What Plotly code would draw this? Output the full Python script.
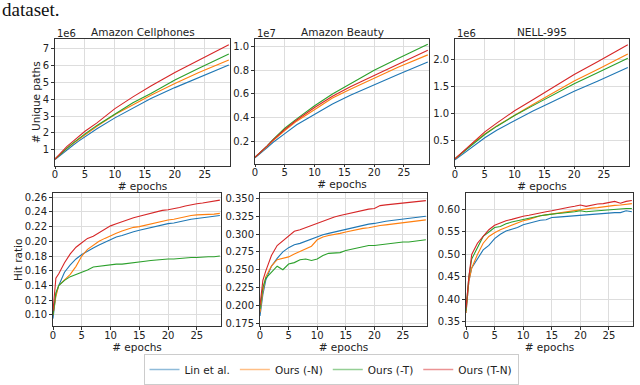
import plotly.graph_objects as go

# epochs for the unique-path curves (values read at these epochs)
ep_paths = [0, 1, 2, 3, 4, 5, 7, 10, 13, 16, 20, 24, 29]
# epochs for the hit-ratio curves
ep_hit = [0, 0.5] + list(range(1, 30))

series_names = ['Lin et al.', 'Ours (-N)', 'Ours (-T)', 'Ours (T-N)']
series_colors = ['#1f77b4', '#ff7f0e', '#2ca02c', '#d62728']
legend_colors = ['#8fbbd9', '#ffbf86', '#95cf95', '#eb9394']

# Unique paths, Amazon Cellphones (x 1e6)
cell_paths = {
    'Lin et al.': [0.42, 0.72, 1.0, 1.27, 1.53, 1.78, 2.25, 2.9, 3.5, 4.05, 4.7, 5.3, 6.05],
    'Ours (-N)': [0.45, 0.78, 1.08, 1.37, 1.64, 1.9, 2.4, 3.1, 3.7, 4.25, 4.95, 5.6, 6.35],
    'Ours (-T)': [0.45, 0.8, 1.1, 1.4, 1.68, 1.95, 2.45, 3.15, 3.8, 4.35, 5.15, 5.85, 6.7],
    'Ours (T-N)': [0.45, 0.85, 1.2, 1.5, 1.8, 2.1, 2.6, 3.45, 4.15, 4.8, 5.6, 6.35, 7.25],
}
# Unique paths, Amazon Beauty (x 1e7)
beauty_paths = {
    'Lin et al.': [0.06, 0.1, 0.145, 0.19, 0.23, 0.265, 0.34, 0.43, 0.515, 0.59, 0.68, 0.765, 0.87],
    'Ours (-N)': [0.065, 0.108, 0.155, 0.205, 0.25, 0.29, 0.37, 0.47, 0.565, 0.64, 0.735, 0.825, 0.93],
    'Ours (-T)': [0.065, 0.11, 0.16, 0.215, 0.265, 0.31, 0.39, 0.5, 0.6, 0.685, 0.8, 0.9, 1.02],
    'Ours (T-N)': [0.065, 0.11, 0.16, 0.21, 0.258, 0.3, 0.38, 0.485, 0.58, 0.66, 0.755, 0.85, 0.97],
}
# Unique paths, NELL-995 (x 1e6)
nell_paths = {
    'Lin et al.': [0.14, 0.22, 0.31, 0.39, 0.47, 0.55, 0.69, 0.87, 1.04, 1.2, 1.41, 1.6, 1.85],
    'Ours (-N)': [0.16, 0.25, 0.35, 0.45, 0.54, 0.62, 0.77, 0.97, 1.16, 1.35, 1.6, 1.82, 2.1],
    'Ours (-T)': [0.16, 0.25, 0.35, 0.44, 0.53, 0.61, 0.76, 0.96, 1.14, 1.32, 1.55, 1.76, 2.02],
    'Ours (T-N)': [0.16, 0.26, 0.37, 0.47, 0.57, 0.66, 0.82, 1.05, 1.25, 1.45, 1.72, 1.96, 2.27],
}

# Hit ratio, Amazon Cellphones
cell_hit = {
    'Lin et al.': [0.095, 0.128, 0.14, 0.158, 0.168, 0.176, 0.182, 0.187, 0.191, 0.195, 0.199, 0.203,
                   0.206, 0.208, 0.211, 0.213, 0.215, 0.217, 0.219, 0.221, 0.222, 0.224, 0.225, 0.227,
                   0.228, 0.230, 0.231, 0.232, 0.233, 0.234, 0.235],
    'Ours (-N)': [0.10, 0.125, 0.14, 0.148, 0.155, 0.166, 0.180, 0.189, 0.195, 0.200, 0.204, 0.208,
                  0.211, 0.214, 0.217, 0.219, 0.220, 0.222, 0.224, 0.225, 0.227, 0.229, 0.230, 0.232,
                  0.233, 0.235, 0.236, 0.236, 0.237, 0.237, 0.238],
    'Ours (-T)': [0.10, 0.13, 0.14, 0.147, 0.152, 0.155, 0.157, 0.161, 0.165, 0.166, 0.168, 0.169,
                  0.169, 0.169, 0.170, 0.170, 0.171, 0.173, 0.174, 0.175, 0.175, 0.176, 0.176, 0.177,
                  0.177, 0.178, 0.178, 0.179, 0.179, 0.179, 0.180],
    'Ours (T-N)': [0.105, 0.15, 0.156, 0.171, 0.183, 0.192, 0.198, 0.204, 0.207, 0.212, 0.216, 0.221,
                   0.224, 0.227, 0.229, 0.232, 0.234, 0.236, 0.238, 0.241, 0.242, 0.243, 0.244, 0.246,
                   0.248, 0.250, 0.251, 0.252, 0.253, 0.254, 0.256],
}
# Hit ratio, Amazon Beauty
beauty_hit = {
    'Lin et al.': [0.185, 0.215, 0.235, 0.255, 0.266, 0.275, 0.281, 0.285, 0.287, 0.290, 0.294, 0.297,
                   0.299, 0.301, 0.303, 0.305, 0.307, 0.309, 0.311, 0.313, 0.314, 0.315, 0.317, 0.318,
                   0.319, 0.320, 0.321, 0.322, 0.323, 0.324, 0.325],
    'Ours (-N)': [0.19, 0.22, 0.24, 0.255, 0.264, 0.266, 0.268, 0.272, 0.276, 0.279, 0.283, 0.292,
                  0.296, 0.298, 0.299, 0.301, 0.303, 0.305, 0.307, 0.308, 0.309, 0.311, 0.312, 0.313,
                  0.314, 0.315, 0.316, 0.317, 0.318, 0.319, 0.320],
    'Ours (-T)': [0.195, 0.225, 0.238, 0.247, 0.255, 0.250, 0.258, 0.260, 0.264, 0.265, 0.263, 0.265,
                  0.270, 0.273, 0.274, 0.274, 0.277, 0.279, 0.280, 0.282, 0.284, 0.284, 0.285, 0.286,
                  0.287, 0.288, 0.289, 0.289, 0.290, 0.291, 0.292],
    'Ours (T-N)': [0.20, 0.235, 0.248, 0.270, 0.284, 0.291, 0.297, 0.304, 0.306, 0.309, 0.313, 0.316,
                   0.319, 0.321, 0.324, 0.326, 0.328, 0.330, 0.332, 0.334, 0.335, 0.336, 0.340, 0.341,
                   0.342, 0.343, 0.344, 0.345, 0.346, 0.346, 0.347],
}
# Hit ratio, NELL-995
nell_hit = {
    'Lin et al.': [0.37, 0.44, 0.47, 0.49, 0.51, 0.52, 0.535, 0.545, 0.552, 0.556, 0.56, 0.566,
                   0.569, 0.573, 0.576, 0.577, 0.582, 0.583, 0.584, 0.586, 0.587, 0.588, 0.589, 0.589,
                   0.590, 0.591, 0.592, 0.593, 0.593, 0.597, 0.595],
    'Ours (-N)': [0.37, 0.44, 0.47, 0.50, 0.525, 0.54, 0.548, 0.555, 0.56, 0.565, 0.570, 0.575,
                  0.578, 0.582, 0.586, 0.588, 0.590, 0.592, 0.594, 0.596, 0.598, 0.600, 0.601, 0.603,
                  0.604, 0.606, 0.607, 0.609, 0.610, 0.611, 0.613],
    'Ours (-T)': [0.375, 0.45, 0.49, 0.515, 0.54, 0.55, 0.56, 0.562, 0.568, 0.572, 0.575, 0.577,
                  0.580, 0.583, 0.586, 0.588, 0.590, 0.591, 0.592, 0.593, 0.595, 0.597, 0.595, 0.596,
                  0.597, 0.598, 0.600, 0.600, 0.601, 0.602, 0.602],
    'Ours (T-N)': [0.38, 0.45, 0.50, 0.525, 0.54, 0.555, 0.565, 0.57, 0.575, 0.578, 0.582, 0.585,
                   0.587, 0.590, 0.593, 0.595, 0.597, 0.600, 0.602, 0.605, 0.607, 0.610, 0.607, 0.610,
                   0.612, 0.613, 0.615, 0.618, 0.614, 0.618, 0.620],
}

panel_titles = ['Amazon Cellphones', 'Amazon Beauty', 'NELL-995']
exp_labels = ['1e6', '1e7', '1e6']

W, H = 640, 385
FONT = 'DejaVu Sans'

def px_x(a, b):
    return [a / W, b / W]

def px_y(top, bottom):
    return [1 - bottom / H, 1 - top / H]

# panel boxes in pixels: (left, right, top, bottom)
boxes = [
    (55, 230, 39, 166), (255, 429, 39, 164), (455, 629, 39, 166),
    (53, 221, 194, 327), (260, 427, 194, 327), (466, 633, 194, 327),
]
yranges = [[0.06, 7.6], [0.012, 1.065], [0.035, 2.38],
           [0.0847, 0.265], [0.1708, 0.357], [0.3405, 0.6355]]
yticks = [
    ([1, 2, 3, 4, 5, 6, 7], ''),
    ([0.2, 0.4, 0.6, 0.8, 1.0], '.1f'),
    ([0.5, 1.0, 1.5, 2.0], '.1f'),
    ([0.10, 0.12, 0.14, 0.16, 0.18, 0.20, 0.22, 0.24, 0.26], '.2f'),
    ([0.175, 0.2, 0.225, 0.25, 0.275, 0.3, 0.325, 0.35], '.3f'),
    ([0.35, 0.40, 0.45, 0.50, 0.55, 0.60], '.2f'),
]
datasets = [(ep_paths, cell_paths), (ep_paths, beauty_paths), (ep_paths, nell_paths),
            (ep_hit, cell_hit), (ep_hit, beauty_hit), (ep_hit, nell_hit)]

fig = go.Figure()
layout = dict()
for i, (xs, d) in enumerate(datasets):
    n = i + 1
    xa = 'x' if n == 1 else 'x%d' % n
    ya = 'y' if n == 1 else 'y%d' % n
    for k, name in enumerate(series_names):
        fig.add_trace(go.Scatter(x=xs, y=d[name], mode='lines', name=name,
                                 line=dict(color=series_colors[k], width=1.1),
                                 xaxis=xa, yaxis=ya, showlegend=False, hoverinfo='skip'))
    l, r, t, b = boxes[i]
    tv, fmt = yticks[i]
    axcommon = dict(showline=True, mirror=True, linecolor='#333333', linewidth=0.8,
                    showgrid=True, gridcolor='#dddddd', gridwidth=0.8, zeroline=False,
                    ticks='outside', ticklen=3, tickcolor='#333333', automargin=False,
                    tickfont=dict(family=FONT, size=10, color='#222222'))
    layout['xaxis' if n == 1 else 'xaxis%d' % n] = dict(
        axcommon, domain=px_x(l, r), anchor=ya, range=[0, 29.2],
        tickvals=[0, 5, 10, 15, 20, 25], ticklabelstandoff=-3,
        title=dict(text='# epochs', font=dict(family=FONT, size=10.5, color='#222222'), standoff=0))
    layout['yaxis' if n == 1 else 'yaxis%d' % n] = dict(
        axcommon, domain=px_y(t, b), anchor=xa, range=yranges[i],
        tickvals=tv, tickformat=fmt)

layout['yaxis']['title'] = dict(text='# Unique paths', font=dict(family=FONT, size=10.5, color='#222222'), standoff=0)
layout['yaxis4']['title'] = dict(text='Hit ratio', font=dict(family=FONT, size=10.5, color='#222222'), standoff=0)

# legend entries
for k, name in enumerate(series_names):
    fig.add_trace(go.Scatter(x=[None], y=[None], mode='lines', name=name,
                             line=dict(color=legend_colors[k], width=1.5), showlegend=True))

annotations = []
for i in range(3):
    l, r, t, b = boxes[i]
    annotations.append(dict(text=panel_titles[i], x=(l + r) / 2 / W, y=1 - (t + 1) / H,
                            xref='paper', yref='paper', xanchor='center', yanchor='bottom',
                            showarrow=False, font=dict(family=FONT, size=10.5, color='#222222')))
    annotations.append(dict(text=exp_labels[i], x=l / W, y=1 - (t + 2) / H,
                            xref='paper', yref='paper', xanchor='left', yanchor='bottom',
                            showarrow=False, font=dict(family=FONT, size=10, color='#222222')))
annotations.append(dict(text='dataset.', x=0, y=1 + 3 / H, xref='paper', yref='paper',
                        xanchor='left', yanchor='top', showarrow=False,
                        font=dict(family='Liberation Serif', size=19, color='#111111')))

fig.update_layout(
    width=W, height=H, margin=dict(l=0, r=0, t=0, b=0),
    plot_bgcolor='white', paper_bgcolor='white',
    annotations=annotations,
    legend=dict(orientation='h', x=331 / W, y=1 - 370 / H, xanchor='center', yanchor='middle',
                bordercolor='#cccccc', borderwidth=1, bgcolor='white',
                font=dict(family=FONT, size=10.5, color='#222222'), itemwidth=30,
                tracegroupgap=0),
    **layout,
)

# drop the browser's default page margin so the figure sits at the window origin
fig.write_html("out.html", config={'displayModeBar': False},
               post_script="document.body.style.margin='0';")
